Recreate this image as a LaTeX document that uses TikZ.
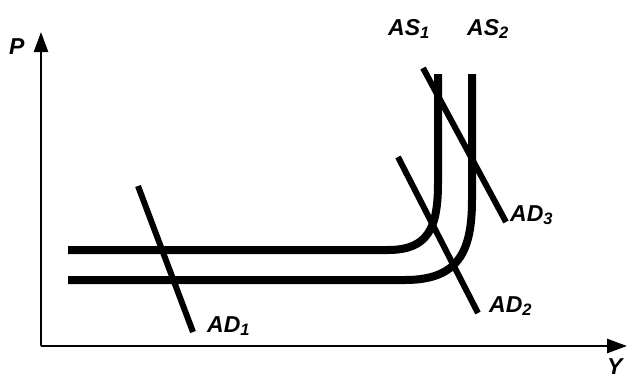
\documentclass[tikz,border=0pt]{standalone}
\usepackage{fontspec}
\setmainfont{Liberation Sans}
\usetikzlibrary{arrows.meta}
\tikzset{
  axis/.style={line width=2.6pt,-{Triangle[length=20pt,width=14pt]}},
  ascurve/.style={line width=8pt, line cap=butt, line join=round},
  adline/.style={line width=6pt},
  lbl/.style={font=\fontsize{23}{26}\selectfont\bfseries\itshape, inner sep=0pt, anchor=base west}
}
\newcommand{\sbs}[1]{\raisebox{-0.3ex}{\fontsize{16.5}{18}\selectfont #1}}
\begin{document}
\begin{tikzpicture}[x=1pt,y=-1pt]
\useasboundingbox (0,0) rectangle (627,378);
% axes
\coordinate (O) at (41,346);
\coordinate (Ptop) at (41,32);
\coordinate (Yend) at (627,346);
\draw[axis] (O) -- (Ptop);
\draw[axis] (O) -- (Yend);
\node[lbl] (P) at (9,54) {P};
\node[lbl] (Y) at (607,374) {Y};
% AS curves
\draw[ascurve] (68,250) -- (388,250) .. controls (428,250) and (438,228) .. (438,183) -- (438,74);
\draw[ascurve] (68,280) -- (405,280) .. controls (458,280) and (472,252) .. (472,200) -- (472,74);
\node[lbl] (AS1) at (388,35) {AS\sbs{1}};
\node[lbl] (AS2) at (467,35) {AS\sbs{2}};
% AD lines
\coordinate (ad1a) at (138,186); \coordinate (ad1b) at (193,332);
\coordinate (ad2a) at (398,157); \coordinate (ad2b) at (478,313);
\coordinate (ad3a) at (423,68);  \coordinate (ad3b) at (506,222);
\draw[adline] (ad1a) -- (ad1b);
\draw[adline] (ad2a) -- (ad2b);
\draw[adline] (ad3a) -- (ad3b);
\node[lbl] (AD1) at (207,332) {AD\sbs{1}};
\node[lbl] (AD2) at (489,312) {AD\sbs{2}};
\node[lbl] (AD3) at (510,221) {AD\sbs{3}};
\end{tikzpicture}
\end{document}
